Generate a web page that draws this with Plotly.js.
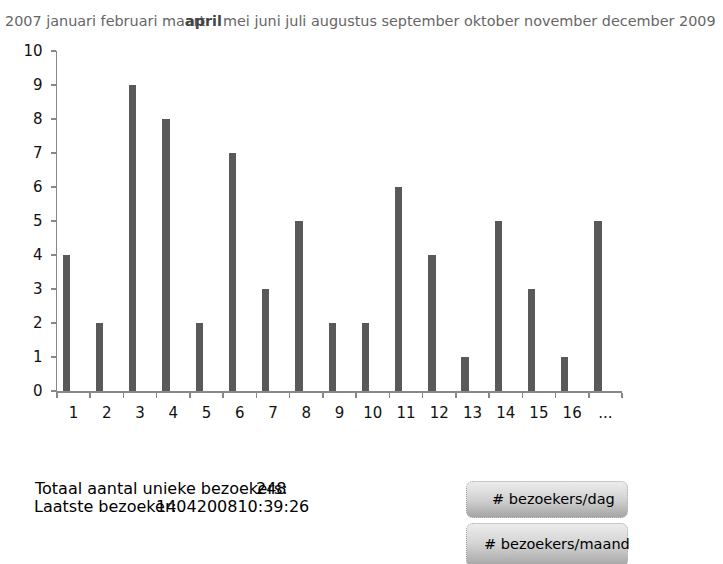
<!DOCTYPE html>
<html>
<head>
<meta charset="utf-8">
<script src="https://cdn.plot.ly/plotly-3.0.1.min.js"></script>
<style>html,body{margin:0;padding:0;background:#fff;}#chart{width:723px;height:564px;}</style>
</head>
<body>
<div id="chart"></div>
<script>
const categories = ['1','2','3','4','5','6','7','8','9','10','11','12','13','14','15','16','...'];
const visitors = [4, 2, 9, 8, 2, 7, 3, 5, 2, 2, 6, 4, 1, 5, 3, 1, 5];
const headerStart = '2007 januari februari maart';
const headerActive = 'april';
const headerEnd = 'mei juni juli augustus september oktober november december 2009';
const totalLabel = 'Totaal aantal unieke bezoekers:';
const totalValue = '248';
const lastLabel = 'Laatste bezoeker:';
const lastValue = '1404200810:39:26';
const buttonLabels = ['# bezoekers/dag', '# bezoekers/maand'];

const W = 723, H = 564;
const M = {l: 57, r: 101, t: 51, b: 173};
const PW = W - M.l - M.r, PH = H - M.t - M.b;
const px = x => (x - M.l) / PW;
const py = y => (H - M.b - y) / PH;

const HEAD_FONT = 'DejaVu Sans', HEAD_SIZE = 14.4;
const ctx = document.createElement('canvas').getContext('2d');
function measure(t, weight) {
  ctx.font = (weight || 'normal') + ' ' + HEAD_SIZE + 'px "' + HEAD_FONT + '"';
  return ctx.measureText(t).width;
}

function txt(text, x, y, opts) {
  opts = opts || {};
  return {
    text: text, xref: 'paper', yref: 'paper', x: px(x), y: py(y),
    xanchor: opts.xanchor || 'left', yanchor: 'middle', showarrow: false,
    font: {family: opts.family || 'DejaVu Sans', size: opts.size || 16, color: opts.color || '#000',
           weight: opts.weight || 'normal'}
  };
}

function buttonSvg(w, h) {
  const s = "<svg xmlns='http://www.w3.org/2000/svg' width='" + w + "' height='" + h + "'>" +
    "<defs><linearGradient id='g' x1='0' y1='0' x2='0' y2='1'>" +
    "<stop offset='0' stop-color='#ededed'/><stop offset='0.5' stop-color='#d2d2d2'/><stop offset='1' stop-color='#a4a4a4'/>" +
    "</linearGradient></defs>" +
    "<rect x='0.5' y='0.5' width='" + (w - 1) + "' height='" + (h - 1) + "' rx='6' ry='6' fill='url(#g)' stroke='#9a9a9a' stroke-dasharray='1,1'/></svg>";
  return 'data:image/svg+xml;charset=utf-8,' + encodeURIComponent(s);
}
function buttonImg(x, y, w, h) {
  return {source: buttonSvg(w, h), xref: 'paper', yref: 'paper', x: px(x), y: py(y),
    sizex: w / PW, sizey: h / PH, xanchor: 'left', yanchor: 'top', sizing: 'stretch', layer: 'below'};
}

const trace = {
  type: 'bar', x: categories, y: visitors,
  offset: -0.33, width: 0.22,
  marker: {color: '#595959', line: {width: 0}},
  hoverinfo: 'x+y'
};

const headX = 3;
const aprilX = headX + measure('2007 januari februari ma');
const restX = aprilX + measure('april', 'bold') + 1;

const axisFont = {family: 'DejaVu Sans', size: 15, color: '#111'};
const layout = {
  width: W, height: H, margin: M,
  paper_bgcolor: '#fff', plot_bgcolor: '#fff',
  showlegend: false,
  bargap: 0,
  xaxis: {
    type: 'category', range: [-0.5, 16.5], tickson: 'boundaries',
    ticks: 'outside', ticklen: 5, tickwidth: 1.5, tickcolor: '#888',
    showline: true, linecolor: '#888', linewidth: 1.5,
    showgrid: false, zeroline: false, tickfont: axisFont, ticklabelstandoff: 7, fixedrange: true
  },
  yaxis: {
    range: [0, 10], dtick: 1, tick0: 0,
    ticks: 'outside', ticklen: 5, tickwidth: 1.5, tickcolor: '#888',
    showline: true, linecolor: '#888', linewidth: 1.5,
    showgrid: false, zeroline: false, tickfont: axisFont, ticklabelstandoff: 5, fixedrange: true
  },
  annotations: [
    txt(headerStart, headX, 21, {size: HEAD_SIZE, color: '#666'}),
    txt(headerActive, aprilX, 21, {size: HEAD_SIZE, color: '#444', weight: 'bold'}),
    txt(headerEnd, restX, 21, {size: HEAD_SIZE, color: '#666'}),
    txt(totalLabel, 32, 489),
    txt(totalValue, 254, 489),
    txt(lastLabel, 32, 506),
    txt(lastValue, 154, 506),
    txt(buttonLabels[0], 617, 499, {xanchor: 'right', size: 14.5}),
    txt(buttonLabels[1], 482, 544, {size: 14.5})
  ],
  images: [buttonImg(466, 481, 162, 37), buttonImg(466, 523, 162, 44)]
};

Plotly.newPlot('chart', [trace], layout, {displayModeBar: false, staticPlot: true});
</script>
</body>
</html>
